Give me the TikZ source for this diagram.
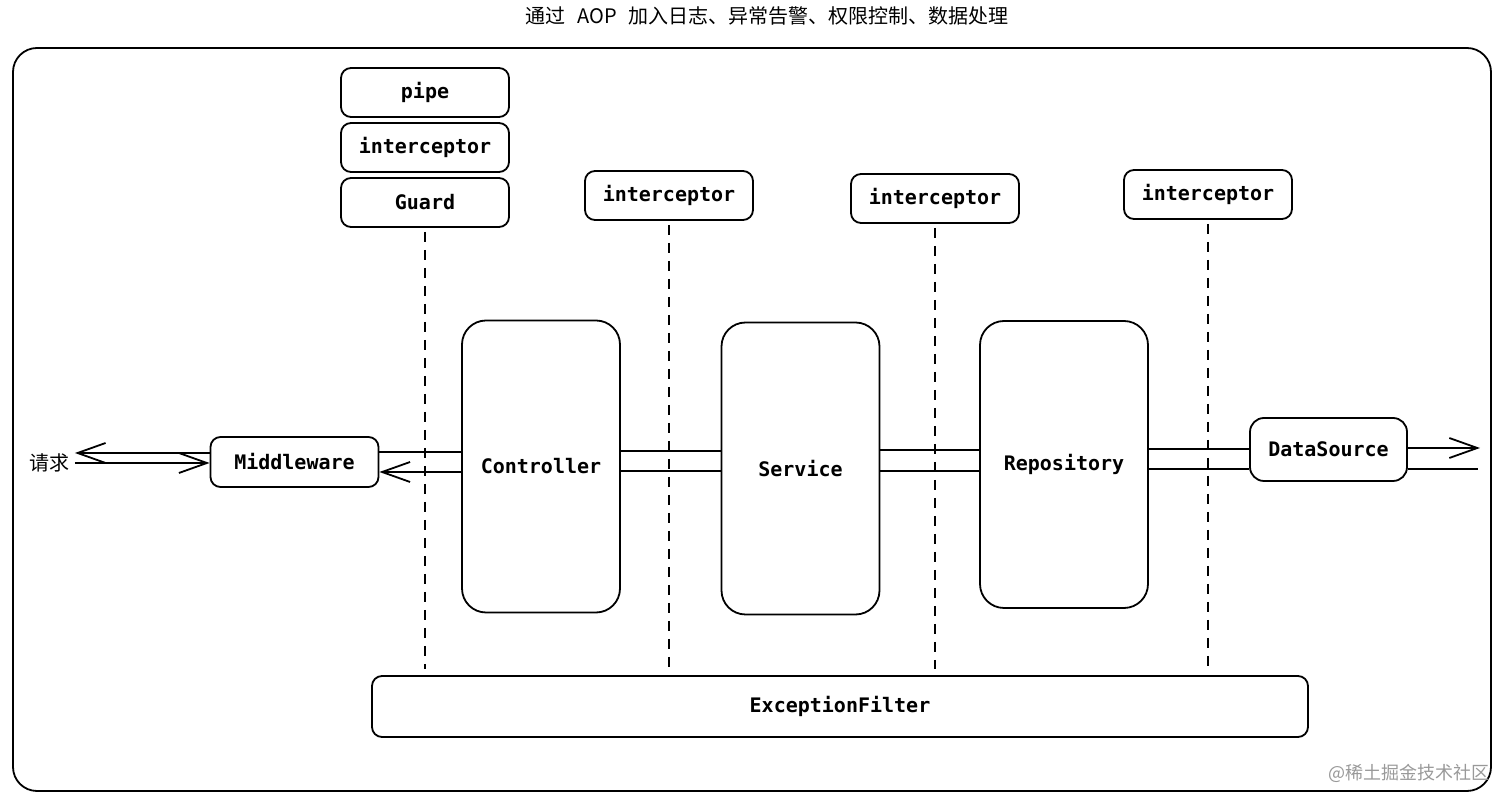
\documentclass[tikz,border=0pt]{standalone}
\usepackage{fontspec}
\setmonofont{DejaVu Sans Mono}
\newfontfamily\cjk{Noto Sans CJK SC}
\usetikzlibrary{arrows.meta}

\begin{document}
\begin{tikzpicture}[x=0.5pt,y=-0.5pt,line width=0.9pt,
        box/.style={draw,rounded corners=5pt,font=\ttfamily\bfseries\fontsize{10}{12}\selectfont,minimum width=84pt,minimum height=24.5pt,inner sep=0pt},
        layer/.style={box,rounded corners=12pt,minimum width=79pt,minimum height=146pt},
        cut/.style={dash pattern=on 5pt off 4pt,line width=0.75pt,shorten <=2pt,shorten >=3pt},
        arr/.style={-{Straight Barb[length=14pt,width=10pt]}}]
        \useasboundingbox (0,0) rectangle (1512,806);
        \node[font=\cjk\fontsize{10}{12}\selectfont] (title) at (767,16) {通过\hspace{6pt}AOP\hspace{6pt}加入日志、异常告警、权限控制、数据处理};
        \draw[rounded corners=12pt] (13,48) rectangle (1491,791);
        \node[box] (pipe) at (425,92.5) {pipe};
        \node[box] (icpt0) at (425,147.5) {interceptor};
        \node[box] (guard) at (425,202.5) {Guard};
        \node[box] (icpt1) at (669,195.5) {interceptor};
        \node[box] (icpt2) at (935,198.5) {interceptor};
        \node[box] (icpt3) at (1208,194.5) {interceptor};
        \node[layer] (ctl) at (541,466.5) {Controller};
        \node[layer] (svc) at (800.5,468.5) {Service};
        \node[layer,minimum width=84pt,minimum height=143.5pt] (repo) at (1064,464.5) {Repository};
        \node[box,minimum height=25pt] (mw) at (294.5,462) {Middleware};
        \node[box,minimum width=78.5pt,minimum height=31.5pt,rounded corners=7pt] (ds) at (1328.5,449.5) {DataSource};
        \node[box,minimum width=468pt,minimum height=30.5pt] (exc) at (840,706.5) {ExceptionFilter};
        \node[font=\cjk\fontsize{10}{12}\selectfont,inner sep=2pt] (req) at (50,463) {请求};
        \node[font=\cjk\fontsize{9}{11}\selectfont,text=black!40] (mark) at (1409,773) {@稀土掘金技术社区};
        \coordinate (outA) at (1480,448);
        \coordinate (outB) at (1478,469);
        \draw[cut] (guard.south) -- (guard.south |- exc.north);
        \draw[cut] (icpt1.south) -- (icpt1.south |- exc.north);
        \draw[cut] (icpt2.south) -- (icpt2.south |- exc.north);
        \draw[cut] (icpt3.south) -- (icpt3.south |- exc.north);
        \draw[arr] (mw.west |- 0,453) -- (req.east |- 0,453);
        \draw[arr] (req.east |- 0,463) -- (mw.west |- 0,463);
        \draw (mw.east |- 0,452) -- (ctl.west |- 0,452);
        \draw[arr] (ctl.west |- 0,472) -- (mw.east |- 0,472);
        \draw (ctl.east |- 0,451) -- (svc.west |- 0,451);
        \draw (ctl.east |- 0,471) -- (svc.west |- 0,471);
        \draw (svc.east |- 0,450) -- (repo.west |- 0,450);
        \draw (svc.east |- 0,471) -- (repo.west |- 0,471);
        \draw (repo.east |- 0,449) -- (ds.west |- 0,449);
        \draw (repo.east |- 0,469) -- (ds.west |- 0,469);
        \draw[arr] (ds.east |- outA) -- (outA);
        \draw (ds.east |- outB) -- (outB);
\end{tikzpicture}
\end{document}
